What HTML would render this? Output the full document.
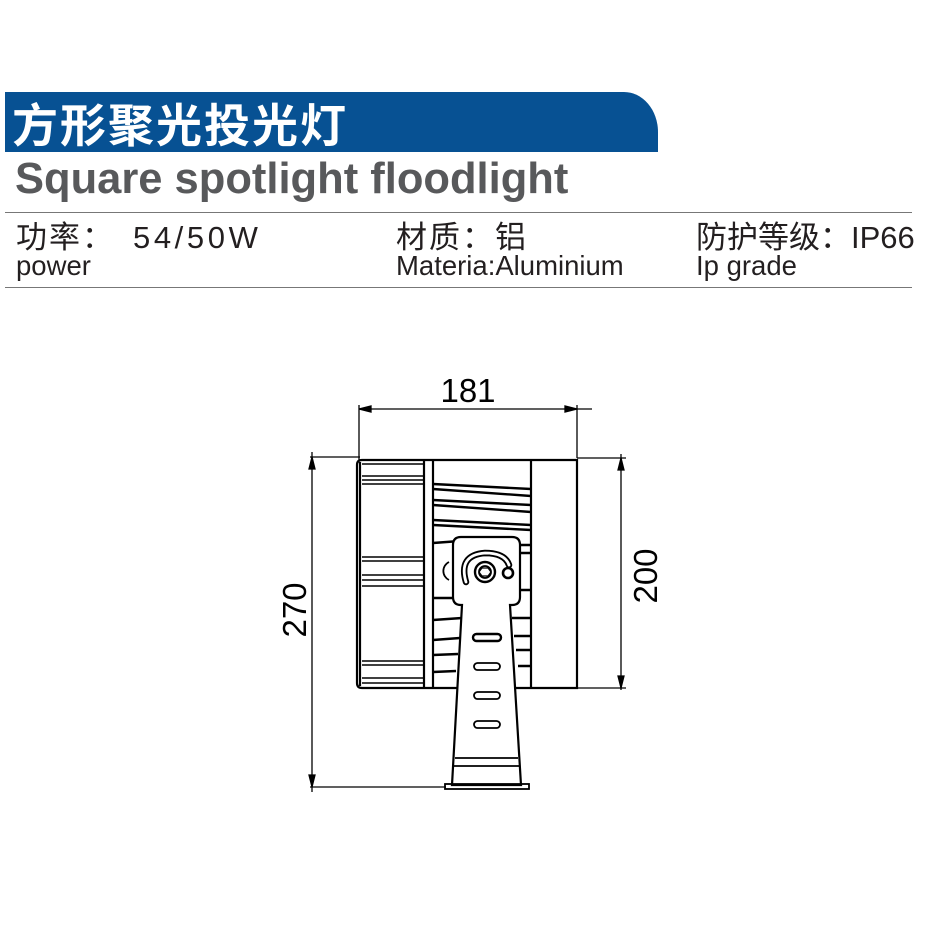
<!DOCTYPE html>
<html><head><meta charset="utf-8"><style>
body{margin:0;width:937px;height:937px;background:#fff;overflow:hidden;position:relative;font-family:"Liberation Sans","Noto Sans CJK SC",sans-serif}
.bar{position:absolute;left:5px;top:92px;width:653px;height:60px;background:#075193;border-top-right-radius:34px 40px}
.t1{position:absolute;left:12px;top:92px;font-size:46px;font-weight:bold;color:#fff;font-family:"Noto Sans CJK SC",sans-serif;line-height:62px;letter-spacing:2px}
.t2{position:absolute;left:15px;top:155px;font-size:43.5px;font-weight:bold;color:#58595b;line-height:48px}
.hr{position:absolute;left:5px;width:907px;height:1px;background:#777}
.s{position:absolute;color:#231f20;white-space:nowrap}
.a{font-size:31px;line-height:32px;top:222px;letter-spacing:2px}
.b{font-size:27.5px;line-height:28px;top:252px}
</style></head><body>
<div class="bar"></div>
<div class="t1">方形聚光投光灯</div>
<div class="t2">Square spotlight floodlight</div>
<div class="hr" style="top:212px"></div>
<div class="hr" style="top:287px"></div>
<div class="s a" style="left:16px">功率：</div>
<div class="s a" style="left:133px;letter-spacing:3.6px">54/50W</div>
<div class="s a" style="left:396px">材质：铝</div>
<div class="s a" style="left:696px;letter-spacing:0">防护等级：IP66</div>
<div class="s b" style="left:16px">power</div>
<div class="s b" style="left:396px">Materia:Aluminium</div>
<div class="s b" style="left:696px">Ip grade</div>
<svg width="937" height="937" style="position:absolute;left:0;top:0" fill="none" stroke="#000" stroke-width="1.3">
<line x1="359" y1="405" x2="359" y2="460"/><line x1="577" y1="405" x2="577" y2="458"/>
<line x1="359" y1="409" x2="592" y2="409"/>
<path d="M359 409 l12 -3 v6z M577 409 l-12 -3 v6z" fill="#000"/>
<text x="468" y="402" font-size="33" fill="#000" stroke="none" text-anchor="middle" font-family="Liberation Sans">181</text>
<line x1="577" y1="458" x2="626" y2="458"/><line x1="577" y1="688" x2="626" y2="688"/>
<line x1="621" y1="454" x2="621" y2="690"/>
<path d="M621 458 l-3 12 h6z M621 688 l-3 -12 h6z" fill="#000"/>
<text transform="translate(657,576) rotate(-90)" font-size="33" fill="#000" stroke="none" text-anchor="middle" font-family="Liberation Sans">200</text>
<line x1="310" y1="457" x2="360" y2="457"/><line x1="310" y1="787" x2="446" y2="787"/>
<line x1="312" y1="452" x2="312" y2="792"/>
<path d="M312 457 l-3 12 h6z M312 787 l-3 -12 h6z" fill="#000"/>
<text transform="translate(306,610) rotate(-90)" font-size="33" fill="#000" stroke="none" text-anchor="middle" font-family="Liberation Sans">270</text>
<g stroke-width="2.2">
<path d="M362 460 H577 V688 H362 Q357 688 357 683 V465 Q357 460 362 460Z"/>
<line x1="360" y1="462" x2="360" y2="686"/>
<line x1="424" y1="460" x2="424" y2="688"/>
<line x1="433" y1="460" x2="433" y2="688"/>
<line x1="531" y1="460" x2="531" y2="688"/>
</g>
<g stroke-width="1.4">
<path d="M362 464H424M362 476H424M362 480H424M362 484H424"/>
<path d="M362 557H424M362 561H424M362 575H424M362 580H424M362 586H424"/>
<path d="M362 661H424M362 665H424M362 678H424M362 683H424"/>
</g>
<g stroke-width="2.4">
<path d="M433 484 L531 489 M433 489 L531 496 M433 500 L531 505 M433 505 L531 512 M433 520 L531 525 M433 525 L531 530 M433 543 L460 541 M520 545 L531 545 M520 553 L531 553 M433 598 L453 598 M520 590 L531 590 M433 620 L462 618 M512 618 L531 618 M433 640 L460 638 M514 636 L531 636 M433 655 L458 654 M516 650 L531 650 M433 672 L456 671 M518 666 L531 666"/>
</g>
<path d="M449 562 a10 10 0 0 0 0 18" stroke-width="1.8"/>
<g stroke-width="2.2" fill="#fff">
<path d="M461 537 H512 Q520 537 520 545 V597 Q520 605 512 605 H510 L521 785 H452 L462 605 H461 Q453 605 453 597 V545 Q453 537 461 537Z"/>
</g>
<g stroke-width="1.8">
<line x1="455" y1="758" x2="518" y2="758"/><line x1="454" y1="766" x2="519" y2="766"/>
<rect x="445" y="784" width="84" height="5"/>
<rect x="473" y="634" width="28" height="7" rx="3.5" stroke-width="2.4"/>
<rect x="474" y="663" width="26" height="7" rx="3.5"/>
<rect x="474" y="692" width="26" height="7" rx="3.5"/>
<rect x="474" y="721" width="26" height="7" rx="3.5"/>
<path d="M466 582 Q458 555 485 553 Q505 553 509 565" stroke-width="6.5" stroke-linecap="round"/>
<path d="M466 582 Q458 555 485 553 Q505 553 509 565" stroke-width="2.8" stroke="#fff" stroke-linecap="round"/>
<circle cx="485" cy="572" r="10" stroke-width="2.4"/>
<circle cx="485" cy="572" r="6"/>
<path d="M482 568 h6 l3 4 -3 4 h-6 l-3 -4z" stroke-width="1.2"/>
<circle cx="508" cy="573" r="5" stroke-width="2.6"/>
</g>
</svg>
</body></html>
